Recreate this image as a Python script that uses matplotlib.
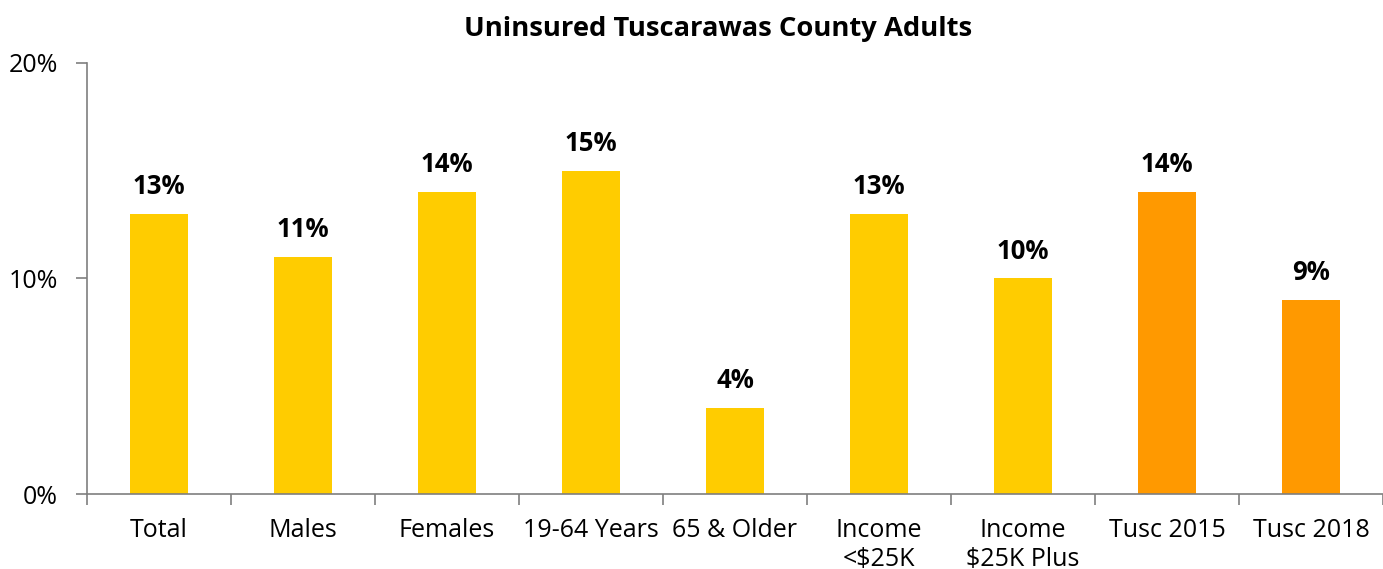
import matplotlib
matplotlib.use("Agg")
import matplotlib.pyplot as plt
import numpy as np

categories = ["Total", "Males", "Females", "19-64 Years", "65 & Older",
              "Income\n<\\$25K", "Income\n\\$25K Plus", "Tusc 2015", "Tusc 2018"]
values = [13, 11, 14, 15, 4, 13, 10, 14, 9]
bar_colors = ["#FFCC00"] * 7 + ["#FF9900"] * 2
y_ticks = [0, 10, 20]
y_tick_labels = ["0%", "10%", "20%"]
title = "Uninsured Tuscarawas County Adults"

plt.rcParams['font.family'] = ['Open Sans', 'DejaVu Sans']

fig = plt.figure(figsize=(13.83, 5.69), dpi=100)
ax = fig.add_axes([0.0629, 0.1318, 0.9371, 0.7575])

x = np.arange(len(categories))
ax.bar(x, values, width=0.4, color=bar_colors, zorder=2)
for xi, v in zip(x, values):
    ax.annotate(f"{v}%", (xi, v), xytext=(0, 10), textcoords="offset points",
                ha="center", va="bottom", fontsize=18.5, fontweight="bold", color="black")

ax.set_xlim(-0.5, len(categories) - 0.5)
ax.set_ylim(0, 20)
ax.set_yticks(y_ticks)
ax.set_yticklabels(y_tick_labels, fontsize=18)
ax.set_xticks(np.arange(len(categories) + 1) - 0.5)
ax.set_xticklabels([])
ax.set_xticks(x, minor=True)
ax.set_xticklabels(categories, minor=True, fontsize=18, linespacing=1.25)
ax.tick_params(axis="x", which="major", length=8, width=1.2, color="#7f7f7f", direction="out")
ax.tick_params(axis="x", which="minor", length=0, pad=17)
ax.tick_params(axis="y", length=8, width=1.2, color="#7f7f7f", pad=13)

for s in ["top", "right"]:
    ax.spines[s].set_visible(False)
for s in ["left", "bottom"]:
    ax.spines[s].set_color("#7f7f7f")
    ax.spines[s].set_linewidth(1.2)

fig.suptitle(title, fontsize=19.7, fontweight="bold", y=0.972, x=0.519)

fig.savefig("out.png", dpi=100)
